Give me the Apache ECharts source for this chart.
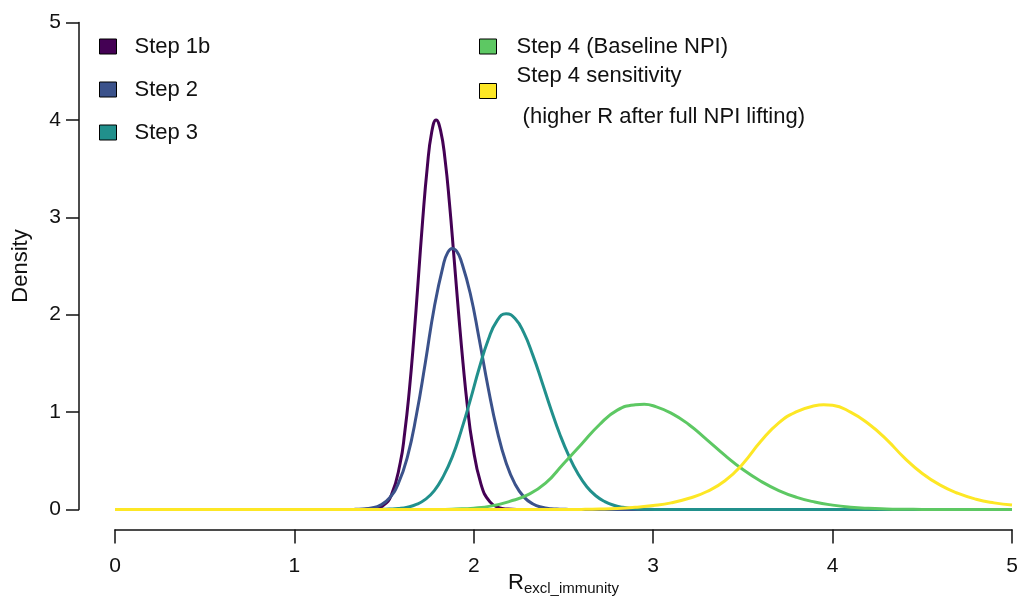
<!DOCTYPE html>
<html>
<head>
<meta charset="utf-8">
<script src="https://cdn.jsdelivr.net/npm/echarts@6/dist/echarts.min.js"></script>
<style>
  html, body { margin: 0; padding: 0; background: #fff; }
  #chart { width: 1017px; height: 596px; }
</style>
</head>
<body>
<div id="chart"></div>
<script>
// density curves, x = R_excl_immunity
const step1bX = [0, 1.34, 1.39, 1.44, 1.49, 1.54, 1.59, 1.615, 1.64, 1.665, 1.69, 1.715, 1.74, 1.765, 1.79, 1.815, 1.84, 1.865, 1.89, 1.915, 1.94, 1.965, 1.99, 2.04, 2.09, 2.14, 2.19, 2.24, 5]
const step1bY = [0, 0, 0.001, 0.006, 0.034, 0.145, 0.48, 0.79, 1.21, 1.74, 2.35, 2.97, 3.50, 3.87, 4.00, 3.89, 3.59, 3.13, 2.58, 2.02, 1.50, 1.05, 0.70, 0.26, 0.078, 0.019, 0.004, 0, 0]

const step2X = [0, 1.28, 1.33, 1.38, 1.43, 1.48, 1.53, 1.58, 1.63, 1.68, 1.73, 1.78, 1.83, 1.855, 1.88, 1.905, 1.93, 1.98, 2.03, 2.08, 2.13, 2.18, 2.23, 2.28, 2.33, 2.38, 2.43, 2.48, 2.53, 2.58, 5]
const step2Y = [0, 0, 0.001, 0.005, 0.015, 0.045, 0.118, 0.27, 0.54, 0.97, 1.51, 2.08, 2.51, 2.64, 2.68, 2.65, 2.55, 2.22, 1.75, 1.25, 0.81, 0.48, 0.26, 0.127, 0.057, 0.023, 0.008, 0.003, 0.001, 0, 0]

const step3X = [0, 1.43, 1.48, 1.53, 1.58, 1.63, 1.68, 1.73, 1.78, 1.83, 1.88, 1.93, 1.98, 2.03, 2.08, 2.13, 2.18, 2.23, 2.28, 2.33, 2.38, 2.43, 2.48, 2.53, 2.58, 2.63, 2.68, 2.73, 2.78, 2.83, 2.88, 2.93, 2.98, 3.03, 3.08, 5]
const step3Y = [0, 0, 0.001, 0.004, 0.010, 0.024, 0.052, 0.104, 0.194, 0.34, 0.54, 0.81, 1.12, 1.45, 1.74, 1.94, 2.01, 1.96, 1.81, 1.58, 1.31, 1.03, 0.77, 0.55, 0.37, 0.234, 0.141, 0.081, 0.044, 0.023, 0.011, 0.005, 0.002, 0.001, 0, 0]

const step4X = [0, 1.8, 1.9, 2.0, 2.1, 2.2, 2.3, 2.4, 2.5, 2.6, 2.7, 2.8, 2.9, 2.95, 3.0, 3.1, 3.2, 3.3, 3.4, 3.5, 3.6, 3.7, 3.8, 3.9, 4.0, 4.1, 4.2, 4.3, 4.4, 4.5, 4.6, 5]
const step4Y = [0, 0.001, 0.005, 0.014, 0.037, 0.083, 0.15, 0.27, 0.47, 0.67, 0.87, 1.02, 1.075, 1.08, 1.065, 0.99, 0.87, 0.715, 0.555, 0.41, 0.29, 0.195, 0.125, 0.077, 0.045, 0.024, 0.012, 0.006, 0.003, 0.001, 0, 0]

const sensX = [0, 2.5, 2.6, 2.7, 2.8, 2.9, 3.0, 3.1, 3.2, 3.3, 3.4, 3.5, 3.6, 3.7, 3.8, 3.9, 3.95, 4.0, 4.1, 4.2, 4.3, 4.4, 4.5, 4.6, 4.7, 4.8, 4.9, 5.0]
const sensY = [0, 0, 0.001, 0.004, 0.01, 0.022, 0.04, 0.068, 0.115, 0.185, 0.295, 0.47, 0.70, 0.89, 1.005, 1.065, 1.075, 1.07, 1.0, 0.88, 0.72, 0.53, 0.37, 0.25, 0.165, 0.105, 0.068, 0.045]

const seriesNames = ['Step 1b', 'Step 2', 'Step 3', 'Step 4 (Baseline NPI)', 'Step 4 sensitivity']
const seriesColors = ['#440154', '#3B528B', '#21908C', '#5DC863', '#FDE725']
const xTicks = [0, 1, 2, 3, 4, 5]
const yTicks = [0, 1, 2, 3, 4, 5]

const FONT = 'Liberation Sans, Arial, sans-serif'
const INK = '#111'

const curves = [
  [step1bX, step1bY],
  [step2X, step2Y],
  [step3X, step3Y],
  [step4X, step4Y],
  [sensX, sensY]
]

const chart = echarts.init(document.getElementById('chart'))

const legendBase = {
  orient: 'vertical',
  icon: 'rect',
  padding: 0,
  itemWidth: 17,
  itemHeight: 15,
  selectedMode: false,
  itemStyle: { borderColor: '#000', borderWidth: 1 },
  textStyle: { fontFamily: FONT, fontSize: 22, color: INK, lineHeight: 26, padding: [0, 0, 0, 13] }
}

const option = {
  animation: false,
  backgroundColor: '#fff',
  grid: { left: 115, right: 5, top: 22.5, bottom: 86.5, containLabel: false, outerBoundsMode: 'none' },
  legend: [
    Object.assign({}, legendBase, {
      left: 99, top: 33.5, itemGap: 17,
      data: seriesNames.slice(0, 3)
    }),
    Object.assign({}, legendBase, {
      left: 479, top: 33.5,
      textStyle: { fontFamily: FONT, fontSize: 22, color: INK, lineHeight: 26, padding: [0, 0, 0, 15] },
      data: [seriesNames[3]]
    }),
    Object.assign({}, legendBase, {
      left: 479, top: 65,
      data: [seriesNames[4]],
      formatter: function (name) {
        return '{a|' + name + '}\n{b| (higher R after full NPI lifting)}'
      },
      textStyle: {
        fontFamily: FONT, fontSize: 22, color: INK, padding: [0, 0, 0, 15],
        rich: {
          a: { fontFamily: FONT, fontSize: 22, color: INK, lineHeight: 52 },
          b: { fontFamily: FONT, fontSize: 22, color: INK, lineHeight: 30 }
        }
      }
    })
  ],
  xAxis: {
    type: 'value',
    min: 0, max: 5, interval: 1,
    offset: 20,
    name: '{r|R}{s|excl_immunity}',
    nameLocation: 'middle',
    nameGap: 42,
    nameMoveOverlap: false,
    nameTextStyle: {
      verticalAlign: 'top',
      rich: {
        r: { fontFamily: FONT, fontSize: 22, color: INK, lineHeight: 22, verticalAlign: 'top' },
        s: { fontFamily: FONT, fontSize: 15, color: INK, lineHeight: 34 }
      }
    },
    axisLine: { show: true, onZero: false, lineStyle: { color: INK, width: 1.5 } },
    axisTick: { show: true, length: 14, lineStyle: { color: INK, width: 1.5 } },
    axisLabel: {
      fontFamily: FONT, fontSize: 21, color: INK, margin: 26,
      formatter: function (v) { return xTicks.indexOf(v) >= 0 ? String(v) : '' }
    },
    splitLine: { show: false }
  },
  yAxis: {
    type: 'value',
    min: 0, max: 5, interval: 1,
    offset: 36,
    name: 'Density',
    nameLocation: 'middle',
    nameGap: 47,
    nameMoveOverlap: false,
    nameTextStyle: { fontFamily: FONT, fontSize: 22, color: INK },
    axisLine: { show: true, onZero: false, lineStyle: { color: INK, width: 1.5 } },
    axisTick: { show: true, length: 13, lineStyle: { color: INK, width: 1.5 } },
    axisLabel: {
      fontFamily: FONT, fontSize: 21, color: INK, margin: 18,
      formatter: function (v) { return yTicks.indexOf(v) >= 0 ? String(v) : '' }
    },
    splitLine: { show: false }
  },
  series: curves.map(function (c, i) {
    return {
      name: seriesNames[i],
      type: 'line',
      smooth: 0.5,
      showSymbol: false,
      clip: false,
      color: seriesColors[i],
      lineStyle: { width: 3, color: seriesColors[i] },
      data: c[0].map(function (x, k) { return [x, c[1][k]] })
    }
  })
}

chart.setOption(option)
</script>
</body>
</html>
